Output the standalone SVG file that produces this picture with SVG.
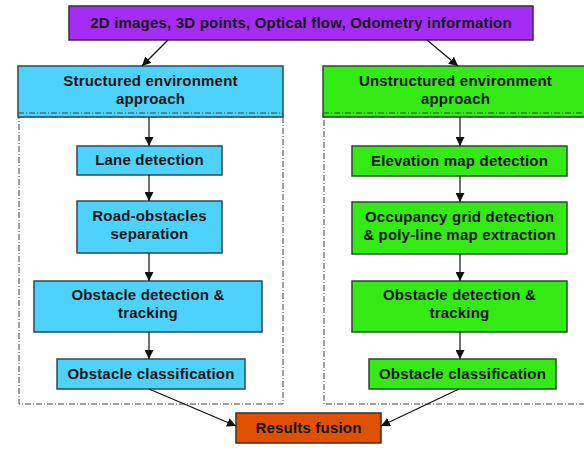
<svg xmlns="http://www.w3.org/2000/svg" width="584" height="450" viewBox="0 0 584 450">
<style>
.t{font-family:"Liberation Sans",Arial,sans-serif;font-weight:bold;font-size:15px;fill:#141414;text-anchor:middle;letter-spacing:0.2px}
.b{fill:#4dd3fb;stroke:#2c4a5a;stroke-width:1.5}
.g{fill:#33ea14;stroke:#2c4a2c;stroke-width:1.5}
.p{fill:#a42cf4;stroke:#3a2a4a;stroke-width:1.5}
.o{fill:#df5000;stroke:#4a2a1a;stroke-width:1.5}
.c{fill:none;stroke:#444;stroke-width:1;stroke-dasharray:6 2 1 2}
.a{fill:none;stroke:#111;stroke-width:1.2;marker-end:url(#ah)}
</style>
<defs>
<marker id="ah" viewBox="0 0 10 10" refX="10" refY="5" markerWidth="9" markerHeight="9" markerUnits="userSpaceOnUse" orient="auto">
<path d="M0,0 L10,5 L0,10 z" fill="#111"/>
</marker>
</defs>
<rect width="584" height="450" fill="#fff"/>
<g id="containers">
<rect class="c" x="19" y="117" width="264" height="287"/>
<rect class="c" x="324" y="117" width="262" height="287"/>
</g>
<g id="input">
<rect class="p" x="69" y="6" width="464" height="34"/>
<text class="t" x="301" y="27.5">2D images, 3D points, Optical flow, Odometry information</text>
</g>
<g id="structured">
<rect class="b" x="18" y="66" width="265" height="51"/>
<line class="c" x1="18" y1="113" x2="283" y2="113"/>
<text class="t" x="150.5" y="86">Structured environment</text>
<text class="t" x="150.5" y="104">approach</text>
</g>
<g id="unstructured">
<rect class="g" x="323" y="66" width="265" height="51"/>
<line class="c" x1="323" y1="113" x2="588" y2="113"/>
<text class="t" x="455.5" y="86">Unstructured environment</text>
<text class="t" x="455.5" y="104">approach</text>
</g>
<g id="lane">
<rect class="b" x="77" y="146" width="145" height="29"/>
<text class="t" x="149.5" y="165">Lane detection</text>
</g>
<g id="road">
<rect class="b" x="77" y="201" width="145" height="52"/>
<text class="t" x="149.5" y="221">Road-obstacles</text>
<text class="t" x="149.5" y="239">separation</text>
</g>
<g id="obsL">
<rect class="b" x="34" y="281" width="228" height="51"/>
<text class="t" x="148" y="300">Obstacle detection &amp;</text>
<text class="t" x="148" y="318">tracking</text>
</g>
<g id="clsL">
<rect class="b" x="57" y="359" width="188" height="30"/>
<text class="t" x="151" y="379">Obstacle classification</text>
</g>
<g id="elev">
<rect class="g" x="352" y="146" width="215" height="30"/>
<text class="t" x="459.5" y="166">Elevation map detection</text>
</g>
<g id="occ">
<rect class="g" x="352" y="202" width="215" height="52"/>
<text class="t" x="459.5" y="222">Occupancy grid detection</text>
<text class="t" x="459.5" y="240">&amp; poly-line map extraction</text>
</g>
<g id="obsR">
<rect class="g" x="352" y="281" width="215" height="51"/>
<text class="t" x="459.5" y="300">Obstacle detection &amp;</text>
<text class="t" x="459.5" y="318">tracking</text>
</g>
<g id="clsR">
<rect class="g" x="369" y="359" width="187" height="30"/>
<text class="t" x="462.5" y="379">Obstacle classification</text>
</g>
<g id="fusion">
<rect class="o" x="236" y="413" width="145" height="30"/>
<text class="t" x="308.5" y="433">Results fusion</text>
</g>
<g id="connectors">
<line class="a" x1="168" y1="40" x2="142" y2="66"/>
<line class="a" x1="427" y1="40" x2="458" y2="66"/>
<line class="a" x1="149" y1="117" x2="149" y2="146"/>
<line class="a" x1="149" y1="175" x2="149" y2="201"/>
<line class="a" x1="149" y1="253" x2="149" y2="281"/>
<line class="a" x1="149" y1="332" x2="149" y2="359"/>
<line class="a" x1="460" y1="117" x2="460" y2="146"/>
<line class="a" x1="460" y1="176" x2="460" y2="202"/>
<line class="a" x1="460" y1="254" x2="460" y2="281"/>
<line class="a" x1="460" y1="332" x2="460" y2="359"/>
<line class="a" x1="149" y1="389" x2="236" y2="426"/>
<line class="a" x1="459" y1="389" x2="381" y2="426"/>
</g>
</svg>
